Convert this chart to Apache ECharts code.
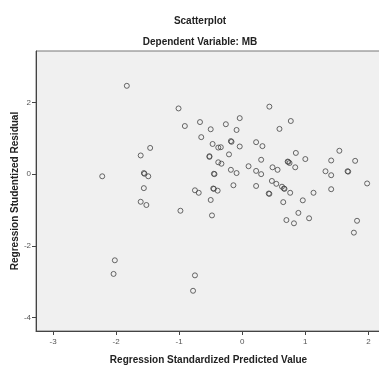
<!DOCTYPE html>
<html>
<head>
<meta charset="utf-8">
<script src="https://cdn.jsdelivr.net/npm/echarts@6/dist/echarts.min.js"></script>
<style>
  html, body { margin: 0; padding: 0; background: #fff; }
  #chart { width: 379px; height: 365px; }
</style>
</head>
<body>
<div id="chart"></div>
<script>
// values
const predicted = [
  -1.83, -1.01, -0.91, -0.67, -0.65, -1.46, -1.61, -2.22, -1.56, -1.55,
  -1.49, -1.56, -1.61, -1.52, -0.98, -2.02, -2.04, -0.75, -0.78, 0.43,
  -0.50, -0.26, -0.04, -0.09, 0.77, 0.59, -0.47, -0.38, -0.34, -0.18,
  -0.17, -0.04, 0.22, 0.32, -0.52, -0.52, -0.21, 0.85, 1.00, 1.54,
  1.41, 1.79, 0.30, -0.38, -0.33, 0.72, 0.73, 0.75, 0.84, 0.10,
  -0.18, -0.09, 0.48, 0.56, 0.22, 0.30, -0.45, -0.44, 1.32, 1.41,
  1.67, 1.68, 1.98, -0.75, -0.69, -0.46, -0.45, -0.39, -0.14, 0.22,
  0.47, 0.54, 0.63, 0.66, 0.67, 0.42, 0.43, 0.76, 1.13, 1.41,
  -0.50, 0.65, 0.96, -0.48, 0.89, 0.70, 0.82, 1.06, 1.82, 1.77
];
const residual = [
  2.46, 1.83, 1.34, 1.45, 1.03, 0.73, 0.52, -0.06, 0.03, 0.01,
  -0.06, -0.39, -0.77, -0.86, -1.02, -2.40, -2.78, -2.82, -3.25, 1.88,
  1.25, 1.39, 1.56, 1.23, 1.48, 1.26, 0.84, 0.74, 0.75, 0.92,
  0.90, 0.77, 0.89, 0.78, 0.50, 0.48, 0.55, 0.59, 0.42, 0.65,
  0.38, 0.37, 0.40, 0.33, 0.29, 0.35, 0.34, 0.31, 0.19, 0.22,
  0.12, 0.03, 0.19, 0.12, 0.09, 0.00, 0.01, 0.00, 0.08, -0.03,
  0.08, 0.07, -0.26, -0.45, -0.52, -0.40, -0.41, -0.46, -0.31, -0.33,
  -0.19, -0.27, -0.35, -0.40, -0.41, -0.54, -0.55, -0.52, -0.52, -0.42,
  -0.72, -0.78, -0.73, -1.15, -1.08, -1.28, -1.37, -1.23, -1.30, -1.63
];
const xTicks = [-3, -2, -1, 0, 1, 2];
const yTicks = [-4, -2, 0, 2];

const chart = echarts.init(document.getElementById('chart'));
const font = 'Liberation Sans, Arial, sans-serif';

chart.setOption({
  animation: false,
  backgroundColor: '#fff',
  title: [
    { text: 'Scatterplot', left: 195, top: 11, textAlign: 'center',
      textStyle: { fontSize: 10, fontWeight: 'bold', color: '#222', fontFamily: font } },
    { text: 'Dependent Variable: MB', left: 195, top: 32, textAlign: 'center',
      textStyle: { fontSize: 10, fontWeight: 'bold', color: '#222', fontFamily: font } }
  ],
  grid: {
    left: 36, top: 51, right: -2, bottom: 34,
    outerBoundsMode: 'none', containLabel: false,
    show: true, backgroundColor: '#f0f0f0', borderColor: '#777', borderWidth: 1
  },
  xAxis: {
    type: 'value', min: -3.27, max: 2.2,
    name: 'Regression Standardized Predicted Value',
    nameLocation: 'middle', nameGap: 24, nameMoveOverlap: false,
    nameTextStyle: { fontSize: 10, fontWeight: 'bold', color: '#222', fontFamily: font },
    splitLine: { show: false },
    axisLine: { onZero: false, lineStyle: { color: '#444', width: 1 } },
    axisTick: { show: true, length: 4, customValues: xTicks, lineStyle: { color: '#444' } },
    axisLabel: { customValues: xTicks, fontSize: 8, color: '#555', margin: 7, fontFamily: font }
  },
  yAxis: {
    type: 'value', min: -4.37, max: 3.43,
    name: 'Regression Studentized Residual',
    nameLocation: 'middle', nameGap: 16, nameMoveOverlap: false,
    nameTextStyle: { fontSize: 10, fontWeight: 'bold', color: '#222', fontFamily: font },
    splitLine: { show: false },
    axisLine: { show: true, onZero: false, lineStyle: { color: '#444', width: 1 } },
    axisTick: { show: true, length: 4, customValues: yTicks, lineStyle: { color: '#444' } },
    axisLabel: { customValues: yTicks, fontSize: 8, color: '#555', margin: 5, fontFamily: font }
  },
  series: [{
    type: 'scatter',
    data: predicted.map((x, i) => [x, residual[i]]),
    symbol: 'circle',
    symbolSize: 5,
    itemStyle: { color: 'rgba(0,0,0,0)', borderColor: '#444', borderWidth: 1 }
  }]
});
</script>
</body>
</html>
